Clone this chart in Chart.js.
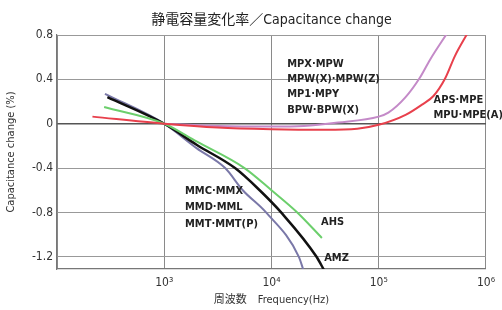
<!DOCTYPE html>
<html><head><meta charset="utf-8">
<script src="https://cdn.jsdelivr.net/npm/chart.js@4"></script>
<style>html,body{margin:0;padding:0;background:#fff}#c{display:block}</style>
</head><body>
<div style="width:502px;height:310px"><canvas id="c" width="502" height="310"></canvas></div>
<script>
const FONT = "'Liberation Sans Narrow','DejaVu Sans Condensed','Noto Sans CJK JP',sans-serif";
const titleText = "静電容量変化率／Capacitance change";
const xTitle = "周波数　Frequency(Hz)";
const yTitle = "Capacitance change (%)";
const xTicks = [100, 1000, 10000, 100000, 1000000];
const xTickLabels = ["", "10³", "10⁴", "10⁵", "10⁶"];
const yTicks = [-1.2, -0.8, -0.4, 0, 0.4, 0.8];
const yTickLabels = ["-1.2", "-0.8", "-0.4", "0", "0.4", "0.8"];

// series: frequency (Hz) and capacitance change (%)
const apsFreq = [214, 1000, 3160, 10000, 31600, 63100, 100000, 178000, 251000, 324000, 417000, 513000, 676000];
const apsVal  = [0.064, 0, -0.035, -0.05, -0.055, -0.045, -0.01, 0.08, 0.17, 0.25, 0.41, 0.61, 0.82];
const mpxFreq = [1000, 3160, 10000, 20000, 41700, 100000, 123000, 178000, 240000, 302000, 437000];
const mpxVal  = [0, -0.02, -0.025, -0.02, 0.01, 0.064, 0.1, 0.24, 0.41, 0.58, 0.82];
const ahsFreq = [275, 1000, 2000, 5600, 10000, 17400, 29500];
const ahsVal  = [0.15, 0, -0.16, -0.4, -0.6, -0.8, -1.03];
const amzFreq = [295, 1000, 2000, 4570, 7760, 12300, 26300, 30900];
const amzVal  = [0.24, 0, -0.19, -0.4, -0.6, -0.8, -1.2, -1.32];
const mmcFreq = [280, 1000, 2000, 3700, 5400, 8900, 18000, 20000];
const mmcVal  = [0.27, 0, -0.22, -0.4, -0.6, -0.8, -1.2, -1.33];

// annotation text anchored at (frequency, value)
const notes = [
  {t:"MPX·MPW", f:14000, v:0.536},
  {t:"MPW(X)·MPW(Z)", f:14000, v:0.40},
  {t:"MP1·MPY", f:14000, v:0.264},
  {t:"BPW·BPW(X)", f:14000, v:0.118},
  {t:"APS·MPE", f:324000, v:0.21},
  {t:"MPU·MPE(A)", f:324000, v:0.073},
  {t:"MMC·MMX", f:1560, v:-0.61},
  {t:"MMD·MML", f:1560, v:-0.755},
  {t:"MMT·MMT(P)", f:1560, v:-0.91},
  {t:"AHS", f:29000, v:-0.89},
  {t:"AMZ", f:31000, v:-1.21}
];

function pts(fs, vs){ return fs.map((f,i)=>({x:f, y:vs[i]})); }
function ds(label, fs, vs, color, w){
  return {label, data: pts(fs, vs), borderColor: color, borderWidth: w, pointRadius: 0,
    fill:false, cubicInterpolationMode:'monotone'};
}

const notePlugin = {
  id:'notes',
  afterDatasetsDraw(chart){
    const {ctx, chartArea, scales:{x, y}} = chart;
    ctx.save();
    ctx.font = "bold 11px " + FONT;
    ctx.fillStyle = "#222";
    ctx.textBaseline = "middle";
    ctx.textAlign = "left";
    notes.forEach(n => ctx.fillText(n.t, x.getPixelForValue(n.f), y.getPixelForValue(n.v)));
    // chart title, centred over the plot area
    ctx.font = "14px " + FONT;
    ctx.textAlign = "center";
    ctx.fillStyle = "#222";
    ctx.fillText(titleText, (chartArea.left + chartArea.right) / 2, 20);
    ctx.restore();
  }
};

new Chart(document.getElementById('c'), {
  type:'line',
  data:{ datasets:[
    ds("APS·MPE / MPU·MPE(A)", apsFreq, apsVal, "#e8404c", 2),
    ds("MPX·MPW / MPW(X)·MPW(Z) / MP1·MPY / BPW·BPW(X)", mpxFreq, mpxVal, "#c48ac8", 2),
    ds("AHS", ahsFreq, ahsVal, "#6ccf6c", 2),
    ds("AMZ", amzFreq, amzVal, "#111111", 2.5),
    ds("MMC·MMX / MMD·MML / MMT·MMT(P)", mmcFreq, mmcVal, "#7a78a8", 2)
  ]},
  options:{
    responsive:false, animation:false,
    layout:{padding:{left:0, right:14, top:35, bottom:0}},
    plugins:{
      legend:{display:false}, tooltip:{enabled:false}, title:{display:false}
    },
    scales:{
      x:{ type:'logarithmic', min:100, max:1000000,
        afterBuildTicks(s){ s.ticks = xTicks.map(v=>({value:v})); },
        afterFit(s){ s.height = 41; },
        ticks:{ autoSkip:false, maxRotation:0, padding:7, color:"#333",
          font:{family:FONT, size:12},
          callback:(v)=>{ const i = xTicks.indexOf(v); return i<0 ? "" : xTickLabels[i]; } },
        grid:{ color:"#8a8a8a", lineWidth:1, drawTicks:false },
        border:{ color:"#777", width:1.2 },
        title:{ display:true, text:xTitle, color:"#333", font:{family:FONT, size:11}, padding:{top:0, bottom:3} }
      },
      y:{ type:'linear', min:-1.31, max:0.8,
        afterBuildTicks(s){ s.ticks = yTicks.map(v=>({value:v})); },
        afterFit(s){ s.width = 57; },
        ticks:{ padding:4, color:"#333", font:{family:FONT, size:12},
          callback:(v)=>{ const i = yTicks.findIndex(t=>Math.abs(t-v)<1e-9); return i<0 ? "" : yTickLabels[i]; } },
        grid:{ color:(c)=> (c.tick && Math.abs(c.tick.value)<1e-9) ? "#555" : "#999", lineWidth:(c)=> (c.tick && Math.abs(c.tick.value)<1e-9) ? 1.5 : 1, drawTicks:false },
        border:{ color:"#777", width:1.2 },
        title:{ display:true, text:yTitle, color:"#333", font:{family:FONT, size:11}, padding:{top:5, bottom:0} }
      }
    }
  },
  plugins:[notePlugin]
});
</script>
</body></html>
